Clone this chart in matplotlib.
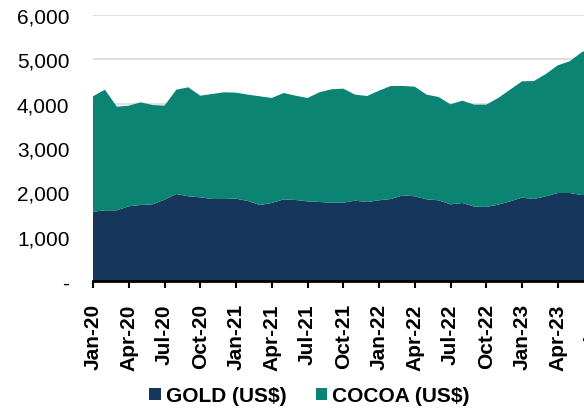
import matplotlib
matplotlib.use("Agg")
import matplotlib.pyplot as plt
from matplotlib.patches import Patch
import numpy as np

months = ["Jan-20","Feb-20","Mar-20","Apr-20","May-20","Jun-20","Jul-20","Aug-20","Sep-20","Oct-20","Nov-20","Dec-20",
          "Jan-21","Feb-21","Mar-21","Apr-21","May-21","Jun-21","Jul-21","Aug-21","Sep-21","Oct-21","Nov-21","Dec-21",
          "Jan-22","Feb-22","Mar-22","Apr-22","May-22","Jun-22","Jul-22","Aug-22","Sep-22","Oct-22","Nov-22","Dec-22",
          "Jan-23","Feb-23","Mar-23","Apr-23","May-23","Jun-23","Jul-23"]

gold = [1563, 1594, 1594, 1685, 1714, 1729, 1834, 1962, 1910, 1888, 1850, 1850,
        1857, 1805, 1714, 1760, 1842, 1827, 1797, 1782, 1767, 1767, 1812, 1782,
        1820, 1850, 1933, 1910, 1842, 1820, 1729, 1760, 1677, 1670, 1722, 1797,
        1880, 1850, 1910, 1985, 1985, 1940, 1950]

total = [4166, 4316, 3932, 3955, 4030, 3970, 3955, 4316, 4369, 4180, 4218, 4256,
         4248, 4203, 4166, 4128, 4241, 4180, 4128, 4256, 4324, 4339, 4203, 4173,
         4293, 4399, 4399, 4384, 4203, 4151, 3986, 4068, 3977, 3977, 4128, 4316,
         4504, 4511, 4669, 4865, 4956, 5158, 5290]

cocoa = [t - g for t, g in zip(total, gold)]

ytick_vals = [0, 1000, 2000, 3000, 4000, 5000, 6000]
ytick_labels = ["-", "1,000", "2,000", "3,000", "4,000", "5,000", "6,000"]

series_names = ["GOLD (US$)", "COCOA (US$)"]
colors = ["#17365C", "#0B8474"]

plt.rcParams['font.family'] = ['Liberation Sans', 'DejaVu Sans']

fig = plt.figure(figsize=(5.84, 4.10), dpi=100)
W, H = 584, 410
left_px, right_px, bottom_px, top_px = 93, 593.5, 282, 16
ax = fig.add_axes([left_px / W, 1 - bottom_px / H, (right_px - left_px) / W, (bottom_px - top_px) / H])

x = np.arange(len(months))
ax.stackplot(x, gold, cocoa, colors=colors, linewidth=0, zorder=2)

ax.set_xlim(0, len(months) - 1)
ax.set_ylim(0, 6000)
ax.set_yticks(ytick_vals)
ax.set_yticklabels(ytick_labels, fontsize=15)
ax.yaxis.grid(True, color="#D9D9D9", linewidth=1.2, zorder=0)
ax.set_axisbelow(True)
ax.tick_params(axis='y', length=0, pad=17)

tick_idx = list(range(0, len(months), 3))
ax.set_xticks(tick_idx)
ax.set_xticklabels([months[i] for i in tick_idx], rotation=90, fontsize=15, fontweight='bold')
ax.tick_params(axis='x', direction='out', length=5, width=1.5, color='black', pad=11)

for s in ['top', 'right', 'left']:
    ax.spines[s].set_visible(False)
ax.spines['bottom'].set_color('black')
ax.spines['bottom'].set_linewidth(2)
ax.spines['bottom'].set_zorder(5)

handles = [Patch(facecolor=c, edgecolor='none') for c in colors]
fig.legend(handles, series_names, loc='center', bbox_to_anchor=(0.53, 1 - 397 / H),
           ncol=2, frameon=False, prop={'weight': 'bold', 'size': 15},
           handlelength=0.55, handleheight=0.55, handletextpad=0.25, columnspacing=1.4)

fig.savefig("out.png", dpi=100)
